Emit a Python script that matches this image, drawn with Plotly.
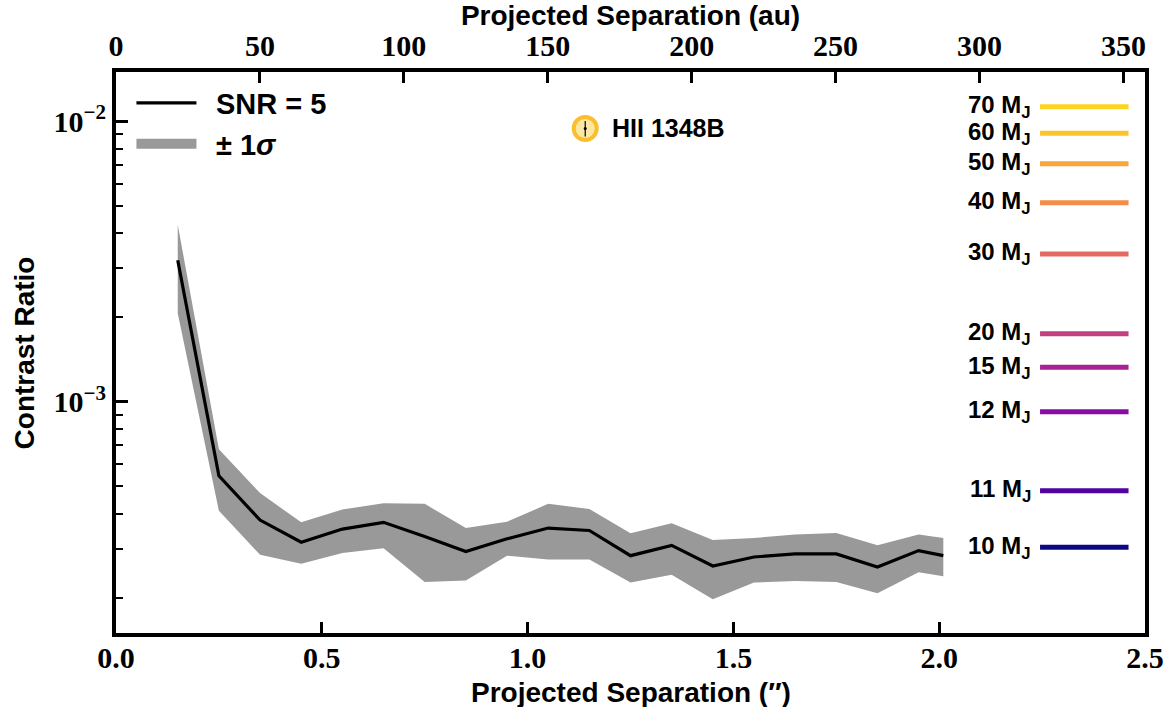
import numpy as np
import plotly.graph_objects as go

# ---------------- data ----------------
sep_arcsec = [0.15, 0.25, 0.35, 0.45, 0.55, 0.65, 0.75, 0.85, 0.95, 1.05,
              1.15, 1.25, 1.35, 1.45, 1.55, 1.65, 1.75, 1.85, 1.95, 2.01]
contrast_snr5 = [3.20e-3, 5.45e-4, 3.79e-4, 3.16e-4, 3.52e-4, 3.72e-4, 3.31e-4, 2.93e-4, 3.25e-4, 3.55e-4,
                 3.48e-4, 2.83e-4, 3.08e-4, 2.60e-4, 2.80e-4, 2.87e-4, 2.87e-4, 2.58e-4, 2.95e-4, 2.83e-4]
contrast_upper = [4.28e-3, 6.78e-4, 4.73e-4, 3.72e-4, 4.13e-4, 4.35e-4, 4.33e-4, 3.55e-4, 3.74e-4, 4.33e-4,
                  4.15e-4, 3.40e-4, 3.69e-4, 3.22e-4, 3.27e-4, 3.37e-4, 3.41e-4, 3.08e-4, 3.37e-4, 3.27e-4]
contrast_lower = [2.07e-3, 4.09e-4, 2.85e-4, 2.65e-4, 2.89e-4, 3.01e-4, 2.28e-4, 2.31e-4, 2.83e-4, 2.74e-4,
                  2.74e-4, 2.27e-4, 2.42e-4, 1.98e-4, 2.27e-4, 2.30e-4, 2.28e-4, 2.08e-4, 2.47e-4, 2.39e-4]

mass_mj = [70, 60, 50, 40, 30, 20, 15, 12, 11, 10]
mass_contrast = [1.127e-2, 9.07e-3, 7.07e-3, 5.13e-3, 3.37e-3, 1.75e-3, 1.33e-3, 9.23e-4, 4.82e-4, 3.03e-4]
mass_colors = ["#fdd521", "#fdc42a", "#f9a53a", "#f48d49", "#e36a63",
               "#c23f81", "#a82296", "#8b0ba5", "#4f04a0", "#0d0887"]
mass_line_x = [2.245, 2.46]
mass_label_x = 2.227

companion_name = "HII 1348B"
companion_sep = 1.14
companion_contrast = 9.44e-3

distance_pc = 143.0
x_range = [0.0, 2.5]
y_range = [1.5e-4, 1.5e-2]
x_ticks = [0.0, 0.5, 1.0, 1.5, 2.0, 2.5]
au_ticks = [0, 50, 100, 150, 200, 250, 300, 350]
y_major = [1e-3, 1e-2]
y_major_text = ["10<sup>\u22123</sup>", "10<sup>\u22122</sup>"]
y_minor = [k * 1e-4 for k in range(2, 10)] + [k * 1e-3 for k in range(2, 10)]

SANS = "Liberation Sans"
SERIF = "Liberation Serif"
BAND = "#999999"

fig = go.Figure()

# +/- 1 sigma band
fig.add_trace(go.Scatter(x=sep_arcsec, y=contrast_lower, mode="lines",
                         line=dict(width=0, color=BAND), showlegend=False,
                         hoverinfo="skip"))
fig.add_trace(go.Scatter(x=sep_arcsec, y=contrast_upper, mode="lines",
                         line=dict(width=0, color=BAND), fill="tonexty",
                         fillcolor=BAND, showlegend=False))
# SNR = 5 curve
fig.add_trace(go.Scatter(x=sep_arcsec, y=contrast_snr5, mode="lines",
                         line=dict(width=3.2, color="black"), name="\u2002SNR = 5"))
# legend entry for the band (patch-like)
fig.add_trace(go.Scatter(x=[None], y=[None], mode="lines",
                         line=dict(width=19, color=BAND),
                         name="\u2002\u00b1 <b>1</b><i>\u03c3</i>"))

# mass lines
for m, c, col in zip(mass_mj, mass_contrast, mass_colors):
    fig.add_trace(go.Scatter(x=mass_line_x, y=[c, c], mode="lines",
                             line=dict(width=5, color=col), showlegend=False))
    fig.add_annotation(x=mass_label_x, y=np.log10(c), xref="x", yref="y",
                       text=f"{m} M<sub>J</sub>", showarrow=False,
                       xanchor="right", yanchor="middle",
                       font=dict(family=SANS, size=24, color="black", weight="bold"))

# companion
fig.add_trace(go.Scatter(x=[companion_sep], y=[companion_contrast], mode="markers",
                         marker=dict(symbol="circle", size=23, color="#fde7a5",
                                     line=dict(color="#fbbf2e", width=4)),
                         showlegend=False))
fig.add_trace(go.Scatter(x=[companion_sep], y=[companion_contrast], mode="markers",
                         marker=dict(symbol="circle", size=3, color="black"),
                         error_y=dict(type="data", array=[0.0006], arrayminus=[0.0006],
                                      color="black", thickness=1.2, width=0),
                         showlegend=False))
fig.add_annotation(x=companion_sep + 0.06, y=np.log10(companion_contrast), xref="x", yref="y",
                   text=companion_name, showarrow=False, xanchor="left", yanchor="middle",
                   font=dict(family=SANS, size=25, color="black", weight="bold"))

# dummy trace for top axis
fig.add_trace(go.Scatter(x=[0, x_range[1] * distance_pc], y=[None, None], xaxis="x2",
                         mode="lines", showlegend=False, hoverinfo="skip"))

tickfont = dict(family=SERIF, size=30, color="black", weight="bold")
titlefont = dict(family=SANS, size=28, color="black", weight="bold")

# axis titles placed as annotations (bottom and left)
fig.add_annotation(x=0.5, y=-0.106, xref="paper", yref="paper", showarrow=False,
                   text="Projected Separation (\u2033)", xanchor="center", yanchor="middle",
                   font=titlefont)
fig.add_annotation(x=-0.0885, y=0.5, xref="paper", yref="paper", showarrow=False,
                   text="Contrast Ratio", textangle=-90, xanchor="center", yanchor="middle",
                   font=titlefont)

fig.update_layout(
    width=1172, height=707,
    margin=dict(l=116, r=27, t=72, b=74),
    paper_bgcolor="white", plot_bgcolor="white",
    showlegend=True,
    legend=dict(x=0.015, y=0.99, xanchor="left", yanchor="top", traceorder="normal",
                bgcolor="rgba(0,0,0,0)", font=dict(family=SANS, size=29, color="black", weight="bold"),
                itemwidth=60, tracegroupgap=2),
    xaxis=dict(range=x_range, tickvals=x_ticks, ticktext=[f"{v:.1f}" for v in x_ticks],
               ticks="inside", ticklen=11, tickwidth=3, tickcolor="black",
               showline=True, linewidth=4, linecolor="black", mirror=False,
               ticklabelstandoff=-5,
               showgrid=False, zeroline=False, tickfont=tickfont, automargin=False),
    xaxis2=dict(range=[x_range[0] * distance_pc, x_range[1] * distance_pc], overlaying="x",
                side="top", anchor="y", tickvals=au_ticks,
                ticks="inside", ticklen=11, tickwidth=3, tickcolor="black",
                showline=True, linewidth=4, linecolor="black", automargin=False,
                showgrid=False, zeroline=False, tickfont=tickfont,
                title=dict(text="Projected Separation (au)", font=titlefont)),
    yaxis=dict(type="log", range=[np.log10(y_range[0]), np.log10(y_range[1])],
               tickvals=y_major, ticktext=y_major_text,
               ticks="inside", ticklen=12, tickwidth=3, tickcolor="black",
               minor=dict(tickvals=y_minor, ticks="inside", ticklen=7, tickwidth=2,
                          tickcolor="black", showgrid=False),
               showline=True, linewidth=4, linecolor="black", mirror=True, automargin=False,
               showgrid=False, zeroline=False, tickfont=tickfont),
)

fig.write_html("out.html")
